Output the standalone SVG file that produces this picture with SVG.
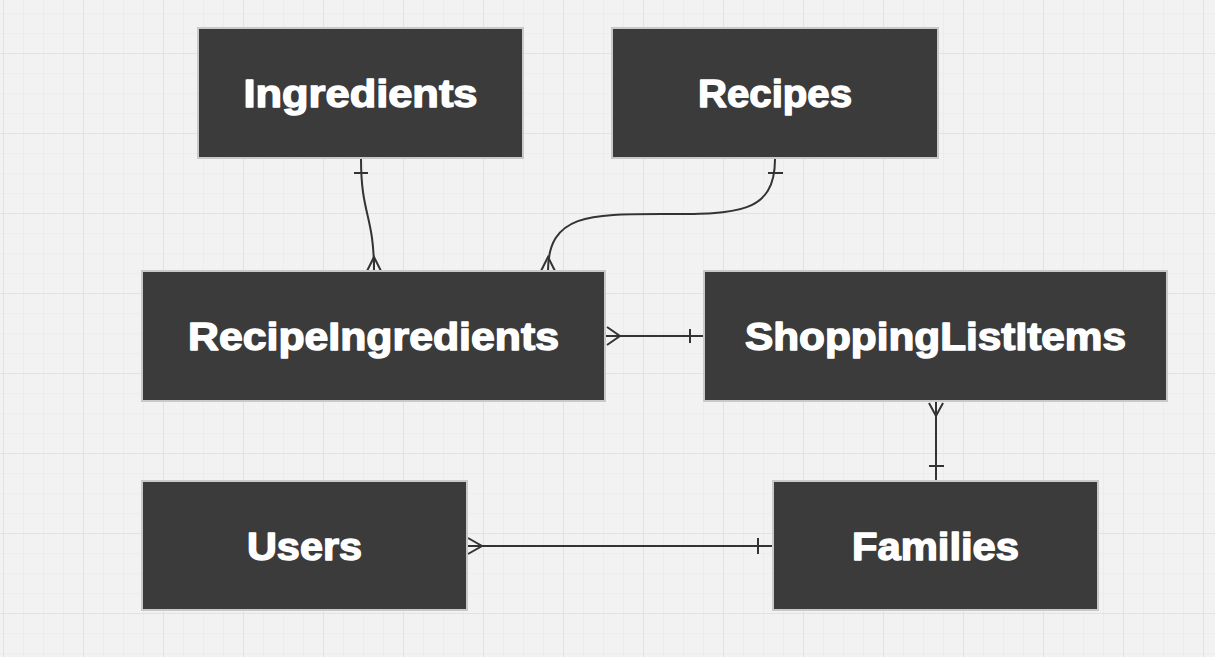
<svg xmlns="http://www.w3.org/2000/svg" width="1215" height="657" viewBox="0 0 1215 657">
<defs>
<pattern id="minor" x="3" y="13" width="20" height="20" patternUnits="userSpaceOnUse">
<path d="M0 0 H20 M0 0 V20" fill="none" stroke="#e8e8e8" stroke-width="1.2"/>
</pattern>
<pattern id="major" x="3" y="53" width="80" height="80" patternUnits="userSpaceOnUse">
<path d="M0 0 H80 M0 0 V80" fill="none" stroke="#dedede" stroke-width="1.4"/>
</pattern>
<style>
.box{fill:#3b3b3b;stroke:#c9c9c9;stroke-width:2}
.lbl{fill:#ffffff;stroke:#ffffff;stroke-width:1.4;stroke-linejoin:round;font-family:"Liberation Sans",Arial,sans-serif;font-weight:bold;font-size:38px;text-anchor:middle}
.edge{fill:none;stroke:#333333;stroke-width:2}
</style>
</defs>
<rect width="1215" height="657" fill="#f2f2f2"/>
<rect width="1215" height="657" fill="url(#minor)"/>
<rect width="1215" height="657" fill="url(#major)"/>

<g id="connectors">
<path class="edge" d="M361 159 C361 215 374 215 374 271"/>
<path class="edge" d="M354 173 H368"/>
<path class="edge" d="M367 271 L374 257 L381 271 M374 257 V271"/>

<path class="edge" d="M775 159 C775 215 735 214 661 214 C590 214 548 214 548 271"/>
<path class="edge" d="M768 173 H783"/>
<path class="edge" d="M541 271 L548 257 L555 271"/>

<path class="edge" d="M606 336 H704"/>
<path class="edge" d="M607 327 L620 336 L607 345"/>
<path class="edge" d="M690 329 V343"/>

<path class="edge" d="M936 402 V481"/>
<path class="edge" d="M929 403 L936 416 L943 403"/>
<path class="edge" d="M929 466 H944"/>

<path class="edge" d="M468 546 H773"/>
<path class="edge" d="M468 538 L482 546 L468 554"/>
<path class="edge" d="M758 538 V554"/>
</g>

<g id="ingredients">
<rect class="box" x="198" y="28" width="325" height="130"/>
<text class="lbl" x="360.5" y="107" textLength="234" lengthAdjust="spacingAndGlyphs">Ingredients</text>
</g>
<g id="recipes">
<rect class="box" x="612" y="28" width="326" height="130"/>
<text class="lbl" x="775" y="107" textLength="154" lengthAdjust="spacingAndGlyphs">Recipes</text>
</g>
<g id="recipeingredients">
<rect class="box" x="142" y="271" width="463" height="130"/>
<text class="lbl" x="373.5" y="350" textLength="371" lengthAdjust="spacingAndGlyphs">RecipeIngredients</text>
</g>
<g id="shoppinglistitems">
<rect class="box" x="704" y="271" width="463" height="130"/>
<text class="lbl" x="935.5" y="350" textLength="381" lengthAdjust="spacingAndGlyphs">ShoppingListItems</text>
</g>
<g id="users">
<rect class="box" x="142" y="481" width="325" height="129"/>
<text class="lbl" x="304.5" y="560" textLength="115" lengthAdjust="spacingAndGlyphs">Users</text>
</g>
<g id="families">
<rect class="box" x="773" y="481" width="325" height="129"/>
<text class="lbl" x="935.5" y="560" textLength="167" lengthAdjust="spacingAndGlyphs">Families</text>
</g>
</svg>
